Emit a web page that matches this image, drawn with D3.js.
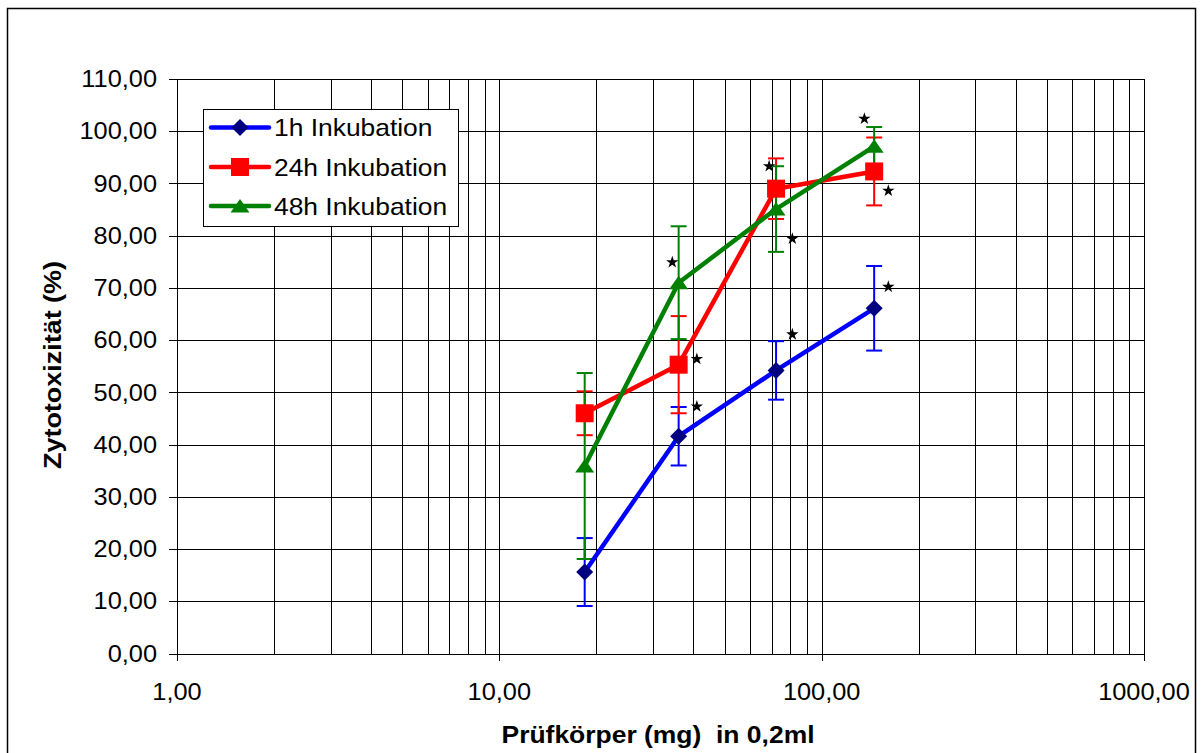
<!DOCTYPE html>
<html>
<head>
<meta charset="utf-8">
<script src="https://cdn.jsdelivr.net/npm/d3@7"></script>
<style>
  body { margin: 0; background: #fff; }
  text { font-family: "Liberation Sans", Arial, sans-serif; }
</style>
</head>
<body>
<div id="app"></div>
<script>
// dose in mg per 0,2ml
let doses = [18.4, 36.0, 72.2, 145.5];

let seriesNames = ['1h Inkubation', '24h Inkubation', '48h Inkubation'];

let mean1h = [15.6, 41.6, 54.2, 66.1];
let err1h  = [6.5, 5.6, 5.6, 8.1];
let mean24h = [46.0, 55.3, 89.0, 92.3];
let err24h  = [4.2, 9.3, 5.8, 6.5];
let mean48h = [35.9, 71.0, 85.1, 97.1];
let err48h  = [17.8, 10.8, 8.2, 3.7];

// significance stars
let starX = [41.0, 41.0, 34.4, 68.7, 81.1, 81.1, 135.7, 161.0, 161.0];
let starY = [47.3, 56.4, 74.9, 93.3, 79.4, 61.1, 102.4, 88.6, 70.2];

let yTicks = d3.range(0, 111, 10);
let xTicks = [1, 10, 100, 1000];

let width = 1202;
let height = 753;
let plotLeft = 177, plotRight = 1144, plotTop = 79, plotBottom = 653.5;
let stretch = 1.08;

let fmt = d => d3.format('.2f')(d).replace('.', ',');

let xScale = d3.scaleLog().domain([1, 1000]).range([plotLeft, plotRight]);
let yScale = d3.scaleLinear().domain([0, 110]).range([plotBottom, plotTop]);

let series = [
  { name: seriesNames[0], mean: mean1h, err: err1h, line: '#0000ff', fill: '#000080', shape: 'diamond' },
  { name: seriesNames[1], mean: mean24h, err: err24h, line: '#ff0000', fill: '#ff0000', shape: 'square' },
  { name: seriesNames[2], mean: mean48h, err: err48h, line: '#008000', fill: '#008000', shape: 'triangle' }
];

let shapes = {
  diamond: 'M0,-8.5L8.5,0L0,8.5L-8.5,0Z',
  square: 'M-9,-9H9V9H-9Z',
  triangle: 'M0,-7L9.5,6.5L-9.5,6.5Z'
};

let svg = d3.select('#app').append('svg')
    .attr('width', width)
    .attr('height', height)
    .style('display', 'block');

// outer frame
svg.append('rect')
    .attr('x', 7.5).attr('y', 8.5)
    .attr('width', 1188).attr('height', 760)
    .attr('fill', '#fff')
    .attr('stroke', '#000')
    .attr('stroke-width', 1.5);

// grid
let minor = [];
for (let e = 0; e < 3; e++) {
  for (let m = 1; m < 10; m++) minor.push(m * Math.pow(10, e));
}
minor.push(1000);

svg.append('g').selectAll('line')
  .data(minor)
  .enter().append('line')
    .attr('x1', d => Math.round(xScale(d)) + 0.5)
    .attr('x2', d => Math.round(xScale(d)) + 0.5)
    .attr('y1', plotTop)
    .attr('y2', plotBottom)
    .attr('stroke', '#000')
    .attr('stroke-width', 1)
    .attr('shape-rendering', 'crispEdges');

svg.append('g').selectAll('line')
  .data(yTicks)
  .enter().append('line')
    .attr('x1', plotLeft - 8)
    .attr('x2', plotRight)
    .attr('y1', d => Math.round(yScale(d)) + 0.5)
    .attr('y2', d => Math.round(yScale(d)) + 0.5)
    .attr('stroke', '#000')
    .attr('stroke-width', 1)
    .attr('shape-rendering', 'crispEdges');

// x major ticks
svg.append('g').selectAll('line')
  .data(xTicks)
  .enter().append('line')
    .attr('x1', d => Math.round(xScale(d)) + 0.5)
    .attr('x2', d => Math.round(xScale(d)) + 0.5)
    .attr('y1', plotBottom)
    .attr('y2', plotBottom + 7)
    .attr('stroke', '#000')
    .attr('shape-rendering', 'crispEdges');

// tick labels
svg.append('g').selectAll('text')
  .data(yTicks)
  .enter().append('text')
    .attr('transform', d => `translate(157,${yScale(d)}) scale(${stretch},1)`)
    .attr('dy', '0.35em')
    .attr('text-anchor', 'end')
    .style('font-size', '23.5px')
    .text(fmt);

svg.append('g').selectAll('text')
  .data(xTicks)
  .enter().append('text')
    .attr('transform', d => `translate(${xScale(d)},700) scale(${stretch},1)`)
    .attr('text-anchor', 'middle')
    .style('font-size', '23.5px')
    .text(fmt);

// axis titles
svg.append('text')
    .attr('transform', `translate(61,365) rotate(-90) scale(1.1,1)`)
    .attr('text-anchor', 'middle')
    .style('font-size', '24.5px')
    .style('font-weight', 'bold')
    .text('Zytotoxizität (%)');

svg.append('text')
    .attr('transform', `translate(658,743) scale(${stretch},1)`)
    .attr('text-anchor', 'middle')
    .style('font-size', '24.5px')
    .style('font-weight', 'bold')
    .style('white-space', 'pre')
    .text('Prüfkörper (mg)  in 0,2ml');

// error bars
series.forEach(s => {
  let g = svg.append('g');
  g.selectAll(null)
    .data(doses)
    .enter().append('line')
      .attr('x1', d => xScale(d)).attr('x2', d => xScale(d))
      .attr('y1', (d, i) => yScale(s.mean[i] + s.err[i]))
      .attr('y2', (d, i) => yScale(s.mean[i] - s.err[i]))
      .attr('stroke', s.line).attr('stroke-width', 2);
  [1, -1].forEach(sign => {
    g.selectAll(null)
      .data(doses)
      .enter().append('line')
        .attr('x1', d => xScale(d) - 8).attr('x2', d => xScale(d) + 8)
        .attr('y1', (d, i) => yScale(s.mean[i] + sign * s.err[i]))
        .attr('y2', (d, i) => yScale(s.mean[i] + sign * s.err[i]))
        .attr('stroke', s.line).attr('stroke-width', 2);
  });
});

// lines
let line = d3.line()
    .x(d => xScale(d[0]))
    .y(d => yScale(d[1]));

series.forEach(s => {
  svg.append('path')
      .datum(doses.map((d, i) => [d, s.mean[i]]))
      .attr('d', line)
      .attr('fill', 'none')
      .attr('stroke', s.line)
      .attr('stroke-width', 4.5)
      .attr('stroke-linejoin', 'round');
});

// markers
series.forEach(s => {
  svg.append('g').selectAll('path')
    .data(doses)
    .enter().append('path')
      .attr('transform', (d, i) => `translate(${xScale(d)},${yScale(s.mean[i])})`)
      .attr('d', shapes[s.shape])
      .attr('fill', s.fill);
});

// stars
svg.append('g').selectAll('path')
  .data(starX)
  .enter().append('path')
    .attr('transform', (d, i) => `translate(${xScale(d)},${yScale(starY[i])})`)
    .attr('d', d3.symbol().type(d3.symbolStar).size(48))
    .attr('fill', '#000');

// legend
let legend = svg.append('g');
legend.append('rect')
    .attr('x', 203.5).attr('y', 109.5)
    .attr('width', 255).attr('height', 117)
    .attr('fill', '#fff')
    .attr('stroke', '#000')
    .attr('stroke-width', 1);

let legendY = [127.5, 167, 206];
series.forEach((s, i) => {
  legend.append('line')
      .attr('x1', 211).attr('x2', 269)
      .attr('y1', legendY[i]).attr('y2', legendY[i])
      .attr('stroke', s.line)
      .attr('stroke-width', 4.5)
      .attr('stroke-linecap', 'round');
  legend.append('path')
      .attr('transform', `translate(240,${legendY[i]})`)
      .attr('d', shapes[s.shape])
      .attr('fill', s.fill);
  legend.append('text')
      .attr('transform', `translate(274,${legendY[i]}) scale(1.1,1)`)
      .attr('dy', '0.36em')
      .style('font-size', '24px')
      .text(s.name);
});
</script>
</body>
</html>
